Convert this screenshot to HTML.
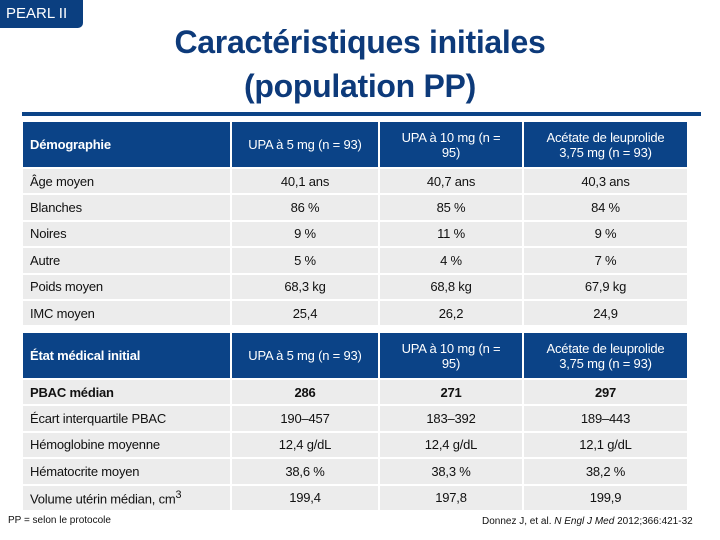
<!DOCTYPE html>
<html><head><meta charset="utf-8"><style>
body{margin:0;width:720px;height:540px;background:#fff;font-family:"Liberation Sans",sans-serif;position:relative;overflow:hidden}
.a{position:absolute}
.c{position:absolute;box-sizing:border-box;display:flex;align-items:center;font-size:13px;color:#111;background:#ececec;letter-spacing:-0.2px}
.h{background:#0b4387;color:#fff;font-size:13px}
.l{padding-left:7px}
.m{justify-content:center;text-align:center}
.b{font-weight:bold}
</style></head><body>
<div class="a" style="left:0;top:0;width:83px;height:28px;background:#0b3f80;border-radius:0 0 5px 0;color:#fff;font-size:15px;line-height:28px;padding-left:6px;box-sizing:border-box">PEARL II</div>
<div class="a" style="left:100px;top:20px;width:520px;text-align:center;color:#0d3a7a;font-weight:bold;font-size:32px;line-height:44px;letter-spacing:-0.3px">Caractéristiques initiales<br>(population PP)</div>
<div class="a" style="left:22px;top:112px;width:679px;height:4px;background:#0b4387"></div>
<div id="t"></div>
<div class="a" style="left:8px;top:515px;font-size:10px;color:#111">PP = selon le protocole</div>
<div class="a" style="left:482px;top:516px;font-size:10px;color:#111">Donnez J, et al. <i>N Engl J Med</i> 2012;366:421-32</div>
<script>
const cols=[[23,207],[232,146],[380,142],[524,163]];
const hdrA=["Démographie","UPA à 5 mg (n = 93)","UPA à 10 mg (n =<br>95)","Acétate de leuprolide<br>3,75 mg (n = 93)"];
const rowsA=[["Âge moyen","40,1 ans","40,7 ans","40,3 ans"],["Blanches","86 %","85 %","84 %"],["Noires","9 %","11 %","9 %"],["Autre","5 %","4 %","7 %"],["Poids moyen","68,3 kg","68,8 kg","67,9 kg"],["IMC moyen","25,4","26,2","24,9"]];
const hdrB=["État médical initial","UPA à 5 mg (n = 93)","UPA à 10 mg (n =<br>95)","Acétate de leuprolide<br>3,75 mg (n = 93)"];
const rowsB=[["PBAC médian","286","271","297"],["Écart interquartile PBAC","190–457","183–392","189–443"],["Hémoglobine moyenne","12,4 g/dL","12,4 g/dL","12,1 g/dL"],["Hématocrite moyen","38,6 %","38,3 %","38,2 %"],["Volume utérin médian, cm<sup>3</sup>","199,4","197,8","199,9"]];
const t=document.getElementById('t');
function cell(x,y,w,h,html,cls){const d=document.createElement('div');d.className='c '+cls;d.style.cssText=`left:${x}px;top:${y}px;width:${w}px;height:${h}px`;d.innerHTML='<span>'+html+'</span>';


t.appendChild(d);}
function section(y,hdr,rows,boldFirst){
 hdr.forEach((s,i)=>cell(cols[i][0],y,cols[i][1],45,s,'h '+(i==0?'l b':'m')));
 let yy=y+47;
 rows.forEach((r,ri)=>{r.forEach((s,i)=>cell(cols[i][0],yy,cols[i][1],24.4,s,(i==0?'l':'m')+(boldFirst&&ri==0?' b':'')));yy+=26.4;});
}
section(122,hdrA,rowsA,false);
section(333,hdrB,rowsB,true);
</script>
</body></html>
